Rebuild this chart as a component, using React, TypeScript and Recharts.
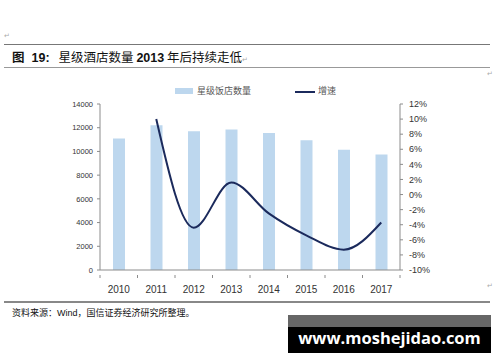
import React from "react";
import { ComposedChart, Bar, Line, XAxis, YAxis } from "recharts";

const years = ["2010", "2011", "2012", "2013", "2014", "2015", "2016", "2017"];
const hotelCount = [11100, 12200, 11700, 11850, 11550, 10950, 10150, 9750];
const growth: (number | null)[] = [null, 10.0, -4.4, 1.6, -2.5, -5.4, -7.3, -3.7];
const leftTicks = [0, 2000, 4000, 6000, 8000, 10000, 12000, 14000];
const rightTicks = [-10, -8, -6, -4, -2, 0, 2, 4, 6, 8, 10, 12];

const data = years.map((y, i) => ({ year: y, count: hotelCount[i], growth: growth[i] }));

const BAR_COLOR = "#BDD7EE";
const LINE_COLOR = "#1B2A5C";
const AXIS_COLOR = "#8c8c8c";
const FONT = "Arial, 'Liberation Sans', sans-serif";
const CJK = "'Noto Sans CJK SC', sans-serif";

const CHART_W = 500;
const MARGIN_L = 0;
const MARGIN_R = 0;
const YAXIS_W = 100;
const BAND = (CHART_W - MARGIN_L - MARGIN_R - 2 * YAXIS_W) / years.length;

const XTick = (props: any) => {
  const { x, y, payload, index } = props;
  return (
    <g>
      <line x1={x - BAND / 2} x2={x - BAND / 2} y1={y} y2={y - 3} stroke={AXIS_COLOR} strokeWidth={1} />
      {index === years.length - 1 ? (
        <line x1={x + BAND / 2} x2={x + BAND / 2} y1={y} y2={y - 3} stroke={AXIS_COLOR} strokeWidth={1} />
      ) : null}
      <text x={x} y={y + 14.5} textAnchor="middle" fontSize={10} fill="#333" fontFamily={FONT}>
        {payload.value}
      </text>
    </g>
  );
};

const LegendBox = () => (
  <div style={{ position: "absolute", left: 0, top: 84, width: 500, height: 14, fontFamily: CJK, fontSize: 9, color: "#555" }}>
    <div style={{ position: "absolute", left: 175, top: 4, width: 18, height: 6, background: BAR_COLOR }} />
    <div style={{ position: "absolute", left: 197, top: 0, lineHeight: "14px" }}>星级饭店数量</div>
    <div style={{ position: "absolute", left: 295, top: 6.5, width: 20, height: 2, background: LINE_COLOR }} />
    <div style={{ position: "absolute", left: 318, top: 0, lineHeight: "14px" }}>增速</div>
  </div>
);

export default function App() {
  return (
    <div style={{ position: "absolute", left: 0, top: 0, width: 500, height: 362, background: "#fff", overflow: "hidden" }}>
      <div style={{ position: "absolute", left: 4, top: 32, fontSize: 7, color: "#aaa", fontFamily: FONT }}>↵</div>
      <div style={{ position: "absolute", left: 4, top: 43.5, width: 486, height: 1.5, background: "#777" }} />
      <div style={{ position: "absolute", left: 12, top: 48, lineHeight: "18px", fontSize: 12.5, color: "#111", fontFamily: CJK, whiteSpace: "nowrap" }}>
        <span style={{ fontWeight: 700 }}>图</span>
        <span style={{ fontWeight: 700, fontFamily: FONT, marginLeft: 7 }}>19:</span>
        <span style={{ marginLeft: 9 }}>星级酒店数量 </span>
        <span style={{ fontWeight: 700, fontFamily: FONT }}>2013</span>
        <span> 年后持续走低</span>
        <span style={{ fontSize: 7, color: "#aaa" }}>↵</span>
      </div>
      <div style={{ position: "absolute", left: 4, top: 67, width: 486, height: 1, background: "#999" }} />
      <div style={{ position: "absolute", left: 487, top: 70, fontSize: 7, color: "#aaa", fontFamily: FONT }}>↵</div>
      <LegendBox />
      <ComposedChart
        width={CHART_W}
        height={362}
        data={data}
        margin={{ top: 104, right: MARGIN_R, bottom: 72, left: MARGIN_L }}
        barCategoryGap={0}
        style={{ position: "absolute", left: 0, top: 0 }}
      >
        <XAxis
          dataKey="year"
          stroke={AXIS_COLOR}
          tickLine={false}
          tick={<XTick />}
          height={20}
          interval={0}
        />
        <YAxis
          yAxisId="left"
          orientation="left"
          width={YAXIS_W}
          domain={[0, 14000]}
          ticks={leftTicks}
          interval={0}
          stroke={AXIS_COLOR}
          tickSize={3}
          tickMargin={4}
          tick={{ fontSize: 7.5, fill: "#333", fontFamily: FONT }}
        />
        <YAxis
          yAxisId="right"
          orientation="right"
          width={YAXIS_W}
          domain={[-10, 12]}
          ticks={rightTicks}
          interval={0}
          stroke={AXIS_COLOR}
          tickSize={3}
          tickMargin={6}
          tickFormatter={(v: number) => `${v}%`}
          tick={{ fontSize: 9, fill: "#333", fontFamily: FONT }}
        />
        <Bar yAxisId="left" dataKey="count" name="星级饭店数量" fill={BAR_COLOR} barSize={12} isAnimationActive={false} />
        <Line
          yAxisId="right"
          dataKey="growth"
          name="增速"
          type="monotone"
          stroke={LINE_COLOR}
          strokeWidth={2}
          dot={false}
          activeDot={false}
          isAnimationActive={false}
        />
      </ComposedChart>
      <div style={{ position: "absolute", left: 487, top: 282, fontSize: 7, color: "#aaa", fontFamily: FONT }}>↵</div>
      <div style={{ position: "absolute", left: 4, top: 301, width: 486, height: 1.5, background: "#888" }} />
      <div style={{ position: "absolute", left: 12, top: 306, lineHeight: "14px", fontSize: 9, color: "#111", fontFamily: CJK, whiteSpace: "nowrap" }}>
        资料来源：<span style={{ fontFamily: FONT }}>Wind</span>，国信证券经济研究所整理。
      </div>
      <div style={{ position: "absolute", left: 288, top: 315, width: 203, height: 12, background: "#666" }} />
      <div style={{ position: "absolute", left: 288, top: 327, width: 203, height: 26, background: "#000" }} />
      <div style={{ position: "absolute", left: 288, top: 324, width: 203, height: 28, lineHeight: "28px", textAlign: "center", color: "#fff", fontWeight: 700, fontSize: 16.5, fontFamily: "'Open Sans', 'DejaVu Sans', sans-serif" }}>
        www.moshejidao.com
      </div>
    </div>
  );
}
